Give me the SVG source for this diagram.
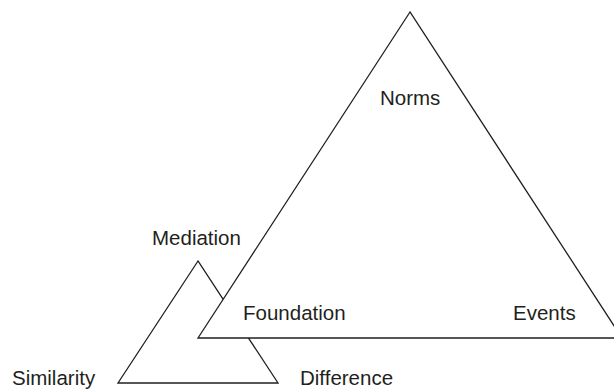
<svg xmlns="http://www.w3.org/2000/svg" width="614" height="390" viewBox="0 0 614 390">
<style>
.tri{fill:#fff;stroke:#231f20;stroke-width:1.3;stroke-linejoin:miter}
.lbl{font-family:"Liberation Sans",Arial,Helvetica,sans-serif;font-size:20.5px;fill:#231f20}
</style>
<rect width="614" height="390" fill="#fff"/>
<g id="small-triangle">
<polygon class="tri" points="198,261 118,383 278,383"/>
<text class="lbl" x="152" y="245">Mediation</text>
<text class="lbl" x="12" y="385">Similarity</text>
<text class="lbl" x="300" y="385">Difference</text>
</g>
<g id="large-triangle">
<polygon class="tri" points="410,12 198,338 622,338"/>
<text class="lbl" x="380" y="105">Norms</text>
<text class="lbl" x="243" y="320">Foundation</text>
<text class="lbl" x="513" y="320">Events</text>
</g>
<g id="connectors"/>
</svg>
